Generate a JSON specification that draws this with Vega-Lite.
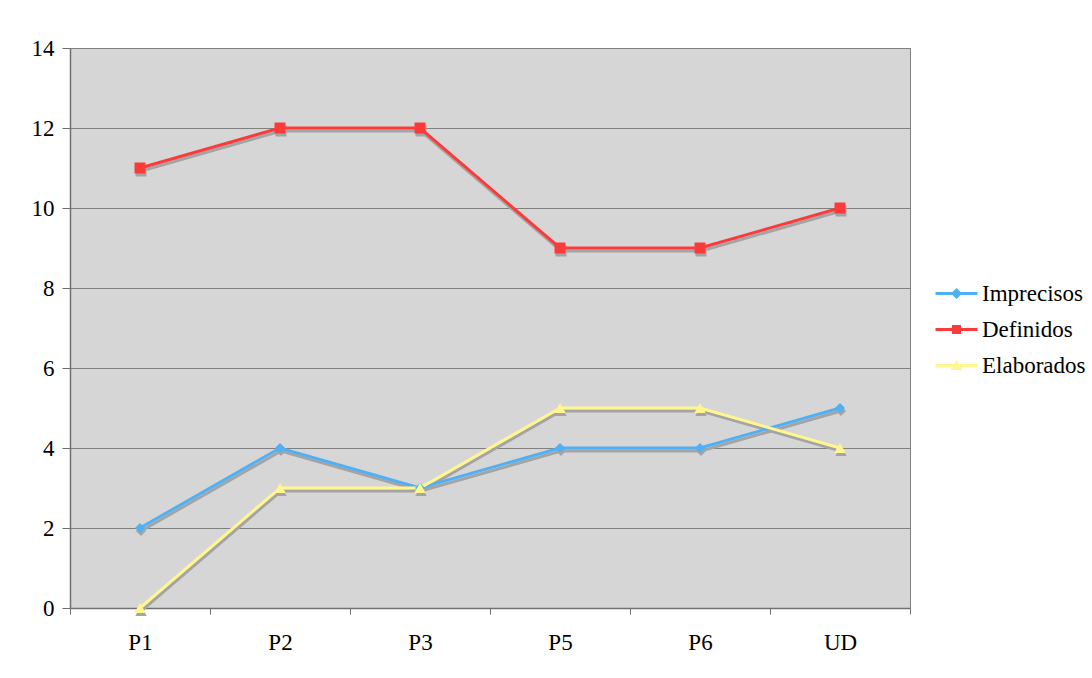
{
  "$schema": "https://vega.github.io/schema/vega-lite/v6.json",
  "width": 840,
  "height": 560,
  "autosize": {"type": "none"},
  "padding": {"left": 70, "top": 48, "right": 182, "bottom": 70},
  "background": "white",
  "config": {
    "font": "Liberation Serif",
    "view": {"fill": "#d6d6d6", "stroke": "#808080", "strokeWidth": 1}
  },
  "data": {
    "values": [
      {"cat": "P1", "serie": "Imprecisos", "v": 2},
      {"cat": "P2", "serie": "Imprecisos", "v": 4},
      {"cat": "P3", "serie": "Imprecisos", "v": 3},
      {"cat": "P5", "serie": "Imprecisos", "v": 4},
      {"cat": "P6", "serie": "Imprecisos", "v": 4},
      {"cat": "UD", "serie": "Imprecisos", "v": 5},
      {"cat": "P1", "serie": "Definidos", "v": 11},
      {"cat": "P2", "serie": "Definidos", "v": 12},
      {"cat": "P3", "serie": "Definidos", "v": 12},
      {"cat": "P5", "serie": "Definidos", "v": 9},
      {"cat": "P6", "serie": "Definidos", "v": 9},
      {"cat": "UD", "serie": "Definidos", "v": 10},
      {"cat": "P1", "serie": "Elaborados", "v": 0},
      {"cat": "P2", "serie": "Elaborados", "v": 3},
      {"cat": "P3", "serie": "Elaborados", "v": 3},
      {"cat": "P5", "serie": "Elaborados", "v": 5},
      {"cat": "P6", "serie": "Elaborados", "v": 5},
      {"cat": "UD", "serie": "Elaborados", "v": 4}
    ]
  },
  "encoding": {
    "x": {
      "field": "cat", "type": "nominal", "sort": null,
      "scale": {"paddingInner": 0, "paddingOuter": 0},
      "axis": {
        "title": null, "labelAngle": 0, "tickBand": "extent",
        "domainColor": "#707070", "domainWidth": 1.5,
        "tickColor": "#707070", "tickSize": 6, "tickWidth": 1,
        "labelFontSize": 23, "labelColor": "black", "labelPadding": 17,
        "labelFont": "Liberation Serif", "grid": false
      }
    },
    "y": {
      "field": "v", "type": "quantitative",
      "scale": {"domain": [0, 14], "nice": false},
      "axis": {
        "title": null, "values": [0, 2, 4, 6, 8, 10, 12, 14],
        "grid": true, "gridColor": "#808080", "gridWidth": 1, "gridOpacity": 1,
        "domainColor": "#707070", "domainWidth": 1.5,
        "tickColor": "#707070", "tickSize": 8, "labelPadding": 8,
        "labelFontSize": 23, "labelColor": "black", "labelFont": "Liberation Serif"
      }
    }
  },
  "layer": [
    {
      "mark": {"type": "line", "color": "#a4a4a4", "strokeWidth": 3, "xOffset": 1, "yOffset": 3},
      "encoding": {"detail": {"field": "serie"}}
    },
    {
      "transform": [{"filter": "datum.serie === 'Imprecisos'"}],
      "mark": {"type": "point", "shape": "diamond", "filled": true, "color": "#a4a4a4", "opacity": 1, "size": 100, "xOffset": 1, "yOffset": 3}
    },
    {
      "transform": [{"filter": "datum.serie === 'Definidos'"}],
      "mark": {"type": "point", "shape": "square", "filled": true, "color": "#a4a4a4", "opacity": 1, "size": 121, "xOffset": 1, "yOffset": 3}
    },
    {
      "transform": [{"filter": "datum.serie === 'Elaborados'"}],
      "mark": {"type": "point", "shape": "triangle-up", "filled": true, "color": "#a4a4a4", "opacity": 1, "size": 130, "xOffset": 1, "yOffset": 3}
    },
    {
      "mark": {"type": "line", "strokeWidth": 3},
      "encoding": {
        "color": {"field": "serie", "type": "nominal",
          "scale": {"domain": ["Imprecisos", "Definidos", "Elaborados"], "range": ["#4fb0f6", "#fc3a3a", "#fff68f"]}}
      }
    },
    {
      "transform": [{"filter": "datum.serie === 'Imprecisos'"}],
      "mark": {"type": "point", "shape": "diamond", "filled": true, "opacity": 1, "size": 100},
      "encoding": {"color": {"field": "serie", "type": "nominal"}}
    },
    {
      "transform": [{"filter": "datum.serie === 'Definidos'"}],
      "mark": {"type": "point", "shape": "square", "filled": true, "opacity": 1, "size": 121},
      "encoding": {"color": {"field": "serie", "type": "nominal"}}
    },
    {
      "transform": [{"filter": "datum.serie === 'Elaborados'"}],
      "mark": {"type": "point", "shape": "triangle-up", "filled": true, "opacity": 1, "size": 130},
      "encoding": {"color": {"field": "serie", "type": "nominal"}}
    },
    {
      "mark": {"type": "point", "filled": true, "opacity": 1, "size": 0},
      "encoding": {
        "color": {"field": "serie", "type": "nominal",
          "scale": {"domain": ["Imprecisos", "Definidos", "Elaborados"], "range": ["#4fb0f6", "#fc3a3a", "#fff68f"]},
          "legend": {
            "title": null, "orient": "none", "legendX": 875, "legendY": 234,
            "symbolSize": 400, "symbolStrokeWidth": 0, "symbolOpacity": 1,
            "labelFontSize": 23, "labelFont": "Liberation Serif", "labelColor": "black",
            "labelOffset": 14, "rowPadding": 12
          }
        },
        "shape": {"field": "serie", "type": "nominal",
          "scale": {"domain": ["Imprecisos", "Definidos", "Elaborados"],
            "range": ["M-2.1,-0.15H2.1V0.15H-2.1Z M0,-0.55L0.55,0L0,0.55L-0.55,0Z", "M-2.1,-0.15H2.1V0.15H-2.1Z M-0.45,-0.45H0.45V0.45H-0.45Z", "M-2.1,-0.15H2.1V0.15H-2.1Z M0,-0.55L0.6,0.45H-0.6Z"]},
          "legend": {
            "title": null, "orient": "none", "legendX": 875, "legendY": 234,
            "symbolSize": 400, "symbolStrokeWidth": 0, "symbolOpacity": 1,
            "labelFontSize": 23, "labelFont": "Liberation Serif", "labelColor": "black",
            "labelOffset": 14, "rowPadding": 12
          }
        }
      }
    }
  ]
}
